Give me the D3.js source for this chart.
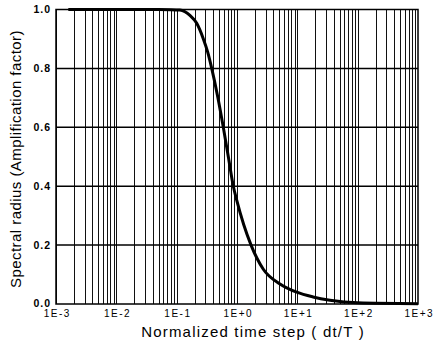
<!DOCTYPE html>
<html>
<head>
<meta charset="utf-8">
<script src="https://cdn.jsdelivr.net/npm/d3@7"></script>
<style>
  body { margin: 0; background: #fff; }
  svg { display: block; font-family: "Liberation Sans", Arial, sans-serif; }
</style>
</head>
<body>
<svg id="chart" width="433" height="349"></svg>
<script>
// normalized time step dt/T and spectral radius
var timeSteps = [0.0016, 0.01, 0.05, 0.08, 0.113, 0.166, 0.215, 0.277, 0.327, 0.381, 0.479, 0.593, 0.718, 0.869, 0.989, 1.71, 2.73, 5.16, 9.77, 18.2, 34.7, 100, 1000];
var spectralRadius = [1.0, 1.0, 1.0, 0.9995, 0.998, 0.98, 0.953, 0.90, 0.855, 0.80, 0.704, 0.60, 0.50, 0.40, 0.353, 0.20, 0.118, 0.068, 0.04, 0.024, 0.013, 0.004, 0.001];
var xTicks = [1e-3, 1e-2, 1e-1, 1e0, 1e1, 1e2, 1e3];
var xTickLabels = ["1E-3", "1E-2", "1E-1", "1E+0", "1E+1", "1E+2", "1E+3"];
var yTicks = [0, 0.2, 0.4, 0.6, 0.8, 1.0];

var svg = d3.select("#chart");
var margin = {top: 9.5, right: 15, bottom: 45, left: 56};
var width = +svg.attr("width") - margin.left - margin.right;
var height = +svg.attr("height") - margin.top - margin.bottom;
var g = svg.append("g").attr("transform", "translate(" + margin.left + "," + margin.top + ")");

var x = d3.scaleLog()
    .domain([1e-3, 1e3])
    .range([0, width]);

var y = d3.scaleLinear()
    .domain([0, 1])
    .range([height, 0]);

// log grid: every 1..9 x 10^k
var minor = [];
for (var k = -3; k < 3; k++) {
  for (var m = 1; m < 10; m++) minor.push(m * Math.pow(10, k));
}

g.append("g")
  .attr("class", "grid grid--x")
  .selectAll("line")
  .data(minor)
  .enter().append("line")
    .attr("x1", d => Math.round(x(d)) + 0.5)
    .attr("x2", d => Math.round(x(d)) + 0.5)
    .attr("y1", 0)
    .attr("y2", height)
    .attr("stroke", "#111")
    .attr("stroke-width", 1);

g.append("g")
  .attr("class", "grid grid--y")
  .selectAll("line")
  .data(yTicks.slice(1, -1))
  .enter().append("line")
    .attr("x1", 0)
    .attr("x2", width)
    .attr("y1", d => y(d))
    .attr("y2", d => y(d))
    .attr("stroke", "#000")
    .attr("stroke-width", 1.5);

g.append("rect")
  .attr("width", width)
  .attr("height", height)
  .attr("fill", "none")
  .attr("stroke", "#000")
  .attr("stroke-width", 1.5);

var line = d3.line()
  .x(d => x(d[0]))
  .y(d => y(d[1]))
  .curve(d3.curveMonotoneX);

g.append("path")
  .datum(d3.zip(timeSteps, spectralRadius))
  .attr("fill", "none")
  .attr("stroke", "#000")
  .attr("stroke-width", 3)
  .attr("d", line);

var xAxis = g.append("g")
  .attr("class", "axis axis--x")
  .attr("transform", "translate(0," + height + ")")
  .call(d3.axisBottom(x).tickValues(xTicks).tickFormat((d, i) => xTickLabels[i]).tickSize(0).tickPadding(6));
xAxis.select(".domain").remove();
xAxis.selectAll("text")
  .attr("fill", "#000")
  .attr("dx", "0.75px")
  .style("font-size", "10px")
  .style("letter-spacing", "1.5px");

var yAxis = g.append("g")
  .attr("class", "axis axis--y")
  .call(d3.axisLeft(y).tickValues(yTicks).tickFormat(d3.format(".1f")).tickSize(0).tickPadding(5));
yAxis.select(".domain").remove();
yAxis.selectAll("text")
  .attr("fill", "#000")
  .attr("dy", "0.28em")
  .style("font-size", "10.5px")
  .style("font-weight", "bold")
  .style("letter-spacing", "1px");

svg.append("text")
  .attr("x", 253)
  .attr("y", 337)
  .attr("text-anchor", "middle")
  .style("font-size", "15px")
  .style("letter-spacing", "1.2px")
  .text("Normalized time step ( dt/T )");

svg.append("text")
  .attr("transform", "translate(21,159) rotate(-90)")
  .attr("text-anchor", "middle")
  .style("font-size", "15px")
  .style("letter-spacing", "0.45px")
  .text("Spectral radius (Amplification factor)");
</script>
</body>
</html>
